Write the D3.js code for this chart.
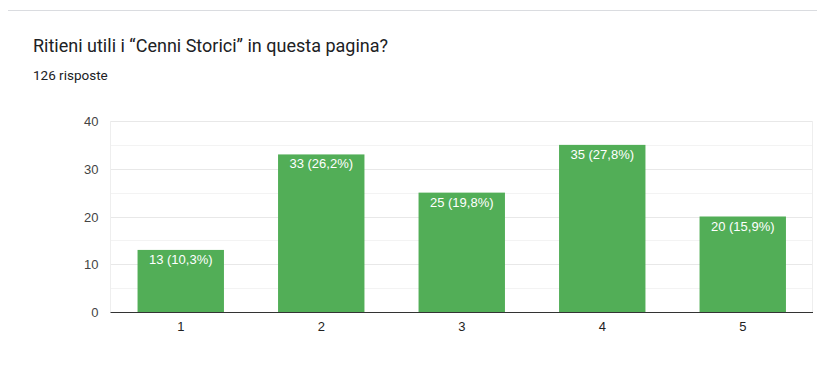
<!DOCTYPE html>
<html><head><meta charset="utf-8">
<script src="https://cdn.jsdelivr.net/npm/d3@7"></script>
<style>
html,body{margin:0;padding:0;background:#fff;}
svg{display:block;}
</style></head>
<body>
<svg id="chart" width="817" height="385"></svg>
<script>
const title = "Ritieni utili i “Cenni Storici” in questa pagina?";
const subtitle = "126 risposte";
const categories = ["1","2","3","4","5"];
const counts = [13, 33, 25, 35, 20];
const labels = ["13 (10,3%)","33 (26,2%)","25 (19,8%)","35 (27,8%)","20 (15,9%)"];
const yTicks = [0, 10, 20, 30, 40];
const yMinor = [5, 15, 25, 35];

(function(){
const svg = d3.select("#chart");
// card top border
svg.append("line").attr("x1",8).attr("x2",817).attr("y1",10.5).attr("y2",10.5)
  .attr("stroke","#dadce0").attr("stroke-width",1);

svg.append("text").attr("x",33).attr("y",52).text(title)
  .attr("font-family","Roboto, 'Noto Sans', sans-serif").attr("font-size",18).attr("fill","#202124");
svg.append("text").attr("x",33).attr("y",79.5).text(subtitle)
  .attr("font-family","Roboto, 'Noto Sans', sans-serif").attr("font-size",13.5).attr("fill","#202124");

const pLeft = 110.5, pRight = 813, pTop = 121, pBottom = 312;
const x = d3.scaleBand().domain(categories).range([pLeft, pRight]).paddingInner(0.385).paddingOuter(0.1925);
const y = d3.scaleLinear().domain([0, 40]).range([pBottom, pTop]);

const g = svg.append("g");
// minor gridlines
g.selectAll("line.minor").data(yMinor).join("line")
  .attr("x1",pLeft).attr("x2",pRight)
  .attr("y1",d=>Math.round(y(d))+0.5).attr("y2",d=>Math.round(y(d))+0.5)
  .attr("stroke","#f3f3f3");
// major gridlines
g.selectAll("line.major").data(yTicks.slice(1)).join("line")
  .attr("x1",pLeft).attr("x2",pRight)
  .attr("y1",d=>Math.round(y(d))+0.5).attr("y2",d=>Math.round(y(d))+0.5)
  .attr("stroke","#e8e8e8");
// vertical borders
g.append("line").attr("x1",pLeft).attr("x2",pLeft).attr("y1",pTop).attr("y2",pBottom).attr("stroke","#eeeeee");
g.append("line").attr("x1",pRight-0.5).attr("x2",pRight-0.5).attr("y1",pTop).attr("y2",pBottom).attr("stroke","#eeeeee");

// bars
g.selectAll("rect.bar").data(counts).join("rect")
  .attr("x",(d,i)=>x(categories[i]))
  .attr("width",x.bandwidth())
  .attr("y",d=>y(d))
  .attr("height",d=>pBottom - y(d))
  .attr("fill","#52ae57");

// bar labels
g.selectAll("text.lbl").data(counts).join("text")
  .attr("x",(d,i)=>x(categories[i]) + x.bandwidth()/2)
  .attr("y",d=>y(d)+14)
  .attr("text-anchor","middle")
  .attr("font-family","Arial, 'Liberation Sans', sans-serif").attr("font-size",13)
  .attr("fill","#ffffff")
  .text((d,i)=>labels[i]);

// y axis
const yAxis = d3.axisLeft(y).tickValues(yTicks).tickSize(0).tickPadding(0);
const ya = svg.append("g").attr("transform",`translate(${pLeft-12},0)`).call(yAxis);
ya.select(".domain").remove();
ya.selectAll("text").attr("font-family","Arial, 'Liberation Sans', sans-serif").attr("font-size",13).attr("fill","#444").attr("dy","0.35em");

// x axis
const xAxis = d3.axisBottom(x).tickSize(0).tickPadding(0);
const xa = svg.append("g").attr("transform",`translate(0,${pBottom})`).call(xAxis);
xa.select(".domain").remove();
xa.selectAll("text").attr("font-family","Arial, 'Liberation Sans', sans-serif").attr("font-size",13).attr("fill","#222").attr("dy","0").attr("y",19);

// baseline
svg.append("line").attr("x1",pLeft).attr("x2",pRight).attr("y1",pBottom+0.5).attr("y2",pBottom+0.5)
  .attr("stroke","#333").attr("stroke-width",1);
})();
</script>
</body></html>
